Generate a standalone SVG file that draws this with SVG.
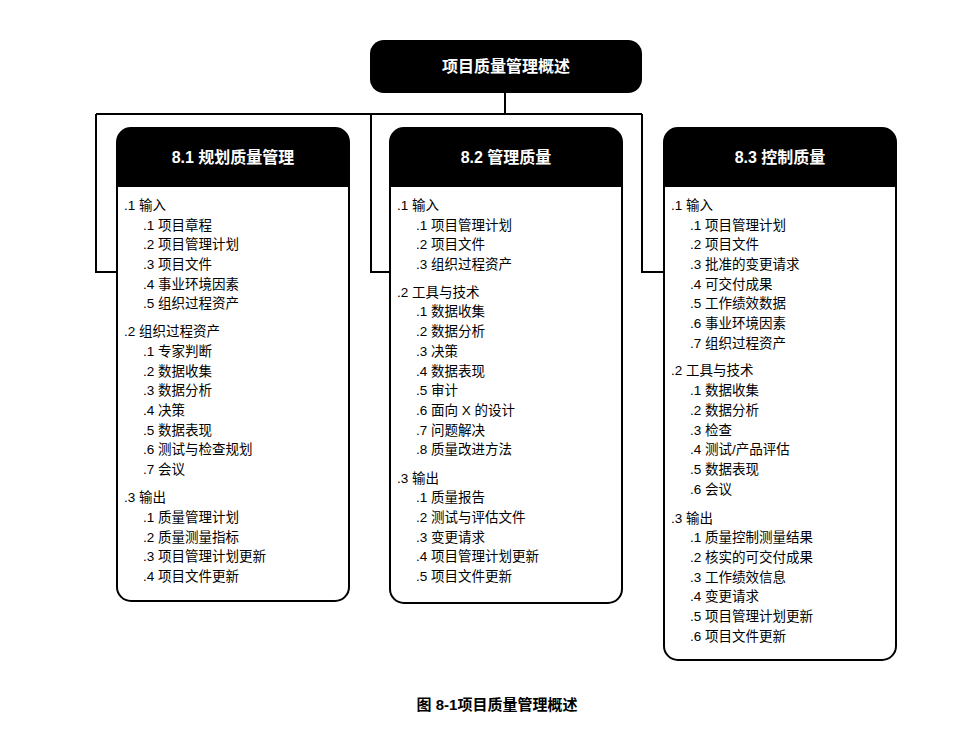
<svg xmlns="http://www.w3.org/2000/svg" width="976" height="730" viewBox="0 0 976 730">
<style>
.t{font-family:"Liberation Sans","Noto Sans CJK SC",sans-serif;font-size:13.5px;fill:#000}
.h{font-family:"Liberation Sans","Noto Sans CJK SC",sans-serif;font-size:16px;font-weight:bold;fill:#fff;text-anchor:middle}
.box{fill:#fff;stroke:#000;stroke-width:2}
.c{fill:none;stroke:#000;stroke-width:2}
</style>
<rect width="976" height="730" fill="#fff"/>
<g id="connectors">
<path class="c" d="M505 93V114M96 114H642M96 114V272H117M371 114V272H390M642 114V272H664"/>
</g>
<g id="top">
<rect x="370" y="40" width="272" height="53" rx="14" fill="#000"/>
<text class="h" x="506" y="72">项目质量管理概述</text>
</g>
<g id="box1">
<rect class="box" x="117" y="128" width="232" height="473" rx="14"/>
<path d="M117 187V142a14 14 0 0 1 14-14h204a14 14 0 0 1 14 14v45z" fill="#000"/>
<text class="h" x="233" y="163">8.1 规划质量管理</text>
<g class="t">
<text x="124" y="210">.1  输入</text>
<text x="143" y="229.5">.1 项目章程</text>
<text x="143" y="249">.2 项目管理计划</text>
<text x="143" y="269">.3 项目文件</text>
<text x="143" y="288.5">.4 事业环境因素</text>
<text x="143" y="308">.5 组织过程资产</text>
<text x="124" y="336">.2  组织过程资产</text>
<text x="143" y="356">.1 专家判断</text>
<text x="143" y="375.5">.2 数据收集</text>
<text x="143" y="395">.3 数据分析</text>
<text x="143" y="415">.4 决策</text>
<text x="143" y="434.5">.5 数据表现</text>
<text x="143" y="454">.6 测试与检查规划</text>
<text x="143" y="474">.7 会议</text>
<text x="124" y="502">.3  输出</text>
<text x="143" y="522">.1 质量管理计划</text>
<text x="143" y="541.5">.2 质量测量指标</text>
<text x="143" y="561">.3 项目管理计划更新</text>
<text x="143" y="581">.4 项目文件更新</text>
</g>
</g>
<g id="box2">
<rect class="box" x="390" y="128" width="232" height="475" rx="14"/>
<path d="M390 187V142a14 14 0 0 1 14-14h204a14 14 0 0 1 14 14v45z" fill="#000"/>
<text class="h" x="506" y="163">8.2 管理质量</text>
<g class="t">
<text x="397" y="210">.1  输入</text>
<text x="416" y="229.5">.1 项目管理计划</text>
<text x="416" y="249">.2 项目文件</text>
<text x="416" y="269">.3 组织过程资产</text>
<text x="397" y="297">.2  工具与技术</text>
<text x="416" y="316">.1 数据收集</text>
<text x="416" y="336">.2 数据分析</text>
<text x="416" y="356">.3 决策</text>
<text x="416" y="375.5">.4 数据表现</text>
<text x="416" y="395">.5 审计</text>
<text x="416" y="415">.6 面向 X 的设计</text>
<text x="416" y="434.5">.7 问题解决</text>
<text x="416" y="454">.8 质量改进方法</text>
<text x="397" y="483">.3  输出</text>
<text x="416" y="502">.1 质量报告</text>
<text x="416" y="522">.2 测试与评估文件</text>
<text x="416" y="541.5">.3 变更请求</text>
<text x="416" y="561">.4 项目管理计划更新</text>
<text x="416" y="581">.5 项目文件更新</text>
</g>
</g>
<g id="box3">
<rect class="box" x="664" y="128" width="232" height="532" rx="14"/>
<path d="M664 187V142a14 14 0 0 1 14-14h204a14 14 0 0 1 14 14v45z" fill="#000"/>
<text class="h" x="780" y="163">8.3 控制质量</text>
<g class="t">
<text x="671" y="210">.1  输入</text>
<text x="690" y="229.5">.1 项目管理计划</text>
<text x="690" y="249">.2 项目文件</text>
<text x="690" y="269">.3 批准的变更请求</text>
<text x="690" y="288.5">.4 可交付成果</text>
<text x="690" y="308">.5 工作绩效数据</text>
<text x="690" y="328">.6 事业环境因素</text>
<text x="690" y="347.5">.7 组织过程资产</text>
<text x="671" y="375">.2  工具与技术</text>
<text x="690" y="395">.1 数据收集</text>
<text x="690" y="415">.2 数据分析</text>
<text x="690" y="434.5">.3 检查</text>
<text x="690" y="454">.4 测试/产品评估</text>
<text x="690" y="474">.5 数据表现</text>
<text x="690" y="494">.6 会议</text>
<text x="671" y="523">.3  输出</text>
<text x="690" y="542">.1 质量控制测量结果</text>
<text x="690" y="562">.2 核实的可交付成果</text>
<text x="690" y="582">.3 工作绩效信息</text>
<text x="690" y="601">.4 变更请求</text>
<text x="690" y="621">.5 项目管理计划更新</text>
<text x="690" y="641">.6 项目文件更新</text>
</g>
</g>
<text x="497" y="710" style="font-family:'Liberation Sans','Noto Sans CJK SC',sans-serif;font-size:15px;font-weight:bold;text-anchor:middle">图 8-1项目质量管理概述</text>
</svg>
